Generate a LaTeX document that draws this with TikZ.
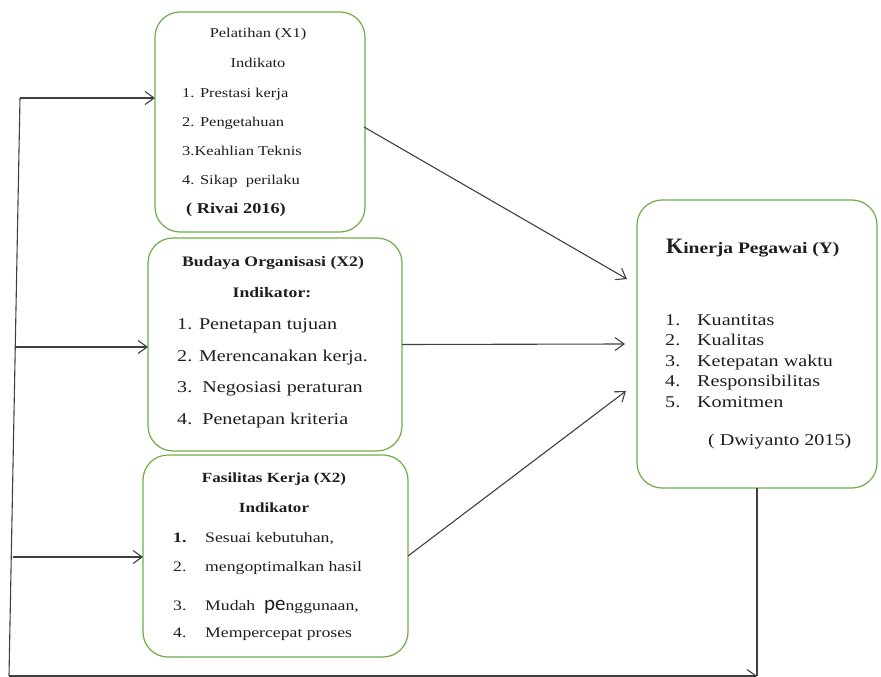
\documentclass[tikz,border=0pt]{standalone}
\usepackage{fontspec}
\setmainfont[FakeStretch=1.22]{Liberation Serif}
\newfontfamily\plainserif{Liberation Serif}
\newfontfamily\carl{Carlito}
\usetikzlibrary{arrows.meta}
\definecolor{boxgreen}{RGB}{112,173,71}
\definecolor{linegray}{RGB}{64,64,64}
\definecolor{txt}{RGB}{30,30,30}
\newcommand\myfs[1]{\fontsize{#1}{#1}\selectfont}
\begin{document}
\begin{tikzpicture}[x=1pt,y=-1pt,
  box/.style={draw=boxgreen, line width=1.2pt, rounded corners=25pt, inner sep=0pt, outer sep=0pt},
  conn/.style={draw=linegray, line width=1.1pt, -{Straight Barb[length=9pt,width=13pt,line width=1.1pt]}},
  plainline/.style={draw=linegray, line width=1.1pt},
  tl/.style={inner sep=0pt, anchor=base west, text=txt},
  tc/.style={inner sep=0pt, anchor=base, text=txt},
  fa/.style={font=\myfs{13.5}},
  fb/.style={font=\myfs{16.5}},
  fc/.style={font=\myfs{14.5}},
  fy/.style={font=\myfs{16.5}}
]
\useasboundingbox (0,0) rectangle (881,677);

% boxes
\node[box, minimum width=210pt, minimum height=220pt] (b1) at (260,122) {};
\node[box, minimum width=254pt, minimum height=213pt] (b2) at (275,344.5) {};
\node[box, minimum width=265pt, minimum height=202pt] (b3) at (275.5,556) {};
\node[box, minimum width=240pt, minimum height=288pt] (b4) at (757,344) {};

% box 1 text
\node[tc, fa] (t11) at (258,38) {Pelatihan (X1)};
\node[tc, fa] (t12) at (258,68) {Indikato};
\node[tl, fa] (t13) at (182,97) {1. Prestasi kerja};
\node[tl, fa] (t14) at (182,126) {2. Pengetahuan};
\node[tl, fa] (t15) at (182,155) {3.Keahlian Teknis};
\node[tl, fa] (t16) at (182,184) {4. Sikap\ \ perilaku};
\node[tl, font=\myfs{15}\bfseries] (t17) at (186,213) {( Rivai 2016)};

% box 2 text
\node[tc, font=\myfs{14.5}\bfseries] (t21) at (273,266) {Budaya Organisasi (X2)};
\node[tc, font=\myfs{14.5}\bfseries] (t22) at (272,297) {Indikator:};
\node[tl, fb] (t23) at (177,329) {1. Penetapan tujuan};
\node[tl, fb] (t24) at (177,361) {2. Merencanakan kerja.};
\node[tl, fb] (t25) at (177,392) {3.\ \ Negosiasi peraturan};
\node[tl, fb] (t26) at (177,424) {4.\ \ Penetapan kriteria};

% box 3 text
\node[tc, font=\myfs{14}\bfseries] (t31) at (274,482) {Fasilitas Kerja (X2)};
\node[tc, font=\myfs{14}\bfseries] (t32) at (274,512) {Indikator};
\node[tl, font=\myfs{14.5}\bfseries] (n31) at (173,542) {1.};
\node[tl, fc] (t33) at (205,542) {Sesuai kebutuhan,};
\node[tl, fc] (n32) at (173,571) {2.};
\node[tl, fc] (t34) at (205,571) {mengoptimalkan hasil};
\node[tl, fc] (n33) at (173,610) {3.};
\node[tl, fc] (t35) at (205,610) {Mudah\ \ {\carl\myfs{21}pe}nggunaan,};
\node[tl, fc] (n34) at (173,637) {4.};
\node[tl, fc] (t36) at (205,637) {Mempercepat proses};

% box Y text
\node[tl, font=\myfs{16}\bfseries] (t41) at (666,253) {{\plainserif\bfseries\myfs{22}K}inerja Pegawai (Y)};
\node[tl, fy] (n41) at (665,325) {1.};
\node[tl, fy] (t42) at (697,325) {Kuantitas};
\node[tl, fy] (n42) at (665,345.5) {2.};
\node[tl, fy] (t43) at (697,345.5) {Kualitas};
\node[tl, fy] (n43) at (665,366) {3.};
\node[tl, fy] (t44) at (697,366) {Ketepatan waktu};
\node[tl, fy] (n44) at (665,386.5) {4.};
\node[tl, fy] (t45) at (697,386.5) {Responsibilitas};
\node[tl, fy] (n45) at (665,407) {5.};
\node[tl, fy] (t46) at (697,407) {Komitmen};
\node[tl, fy] (t47) at (708,445) {( Dwiyanto 2015)};

% left feedback line
\coordinate (L1) at (20,98);
\coordinate (L2) at (15.5,347);
\coordinate (L3) at (13,557);
\coordinate (Lb) at (9,676);
\draw[plainline] (L1) -- (Lb);
\draw[conn] (L1) -- (L1 -| b1.west);
\draw[conn] (L2) -- (L2 -| b2.west);
\draw[conn] (L3) -- (L3 -| b3.west);

% bottom line
\coordinate (Yb) at (b4.south |- Lb);
\draw[plainline] (b4.south) -- (Yb);
\draw[conn] (Lb) -- (Yb);

% arrows into Y
\coordinate (e1) at (364,127);
\coordinate (y1) at (627,279);
\coordinate (y2) at (625,344);
\coordinate (y3) at (626,391);
\draw[conn] (e1) -- (y1);
\draw[conn] (b2.east) -- (y2);
\draw[conn] (b3.east) -- (y3);
\end{tikzpicture}
\end{document}
